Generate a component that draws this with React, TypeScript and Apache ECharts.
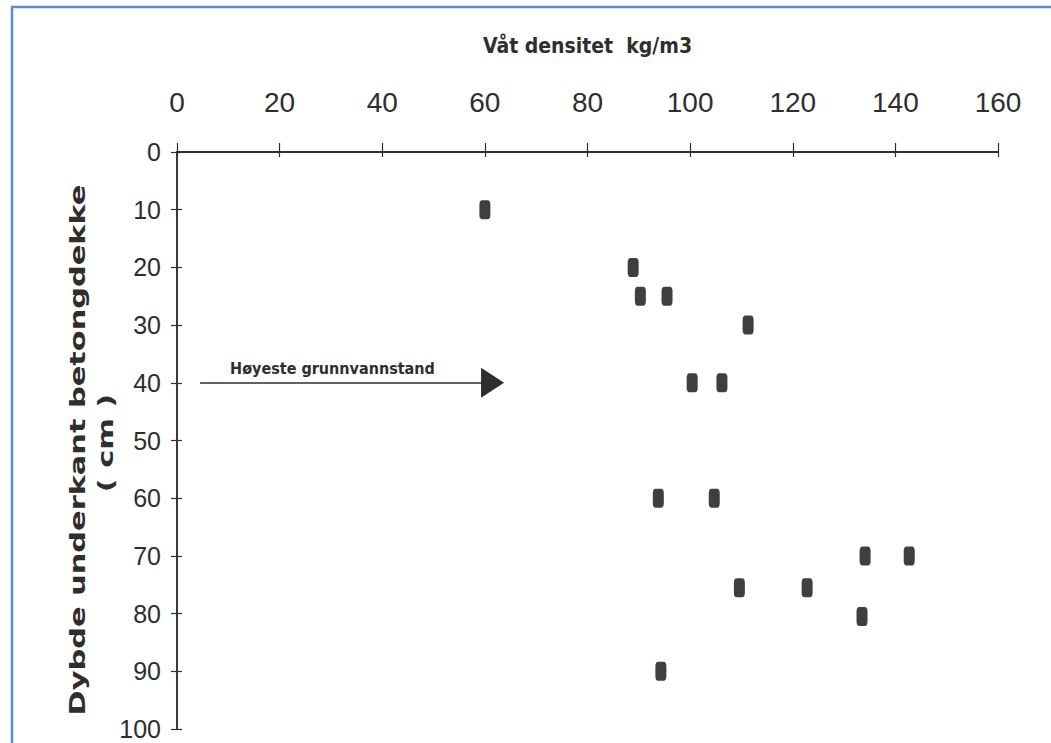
import React, { useEffect, useRef } from "react";
import * as echarts from "echarts";

// Wet density (kg/m3) vs depth below concrete deck (cm)
const densities = [60, 88.9, 90.3, 95.5, 111.3, 100.4, 106.2, 93.8, 104.7, 134.1, 142.7, 109.6, 122.8, 133.5, 94.3];
const depths = [10, 20, 25, 25, 30, 40, 40, 60, 60, 70, 70, 75.5, 75.5, 80.5, 90];

const xRange = [0, 160];
const xStep = 20;
const yRange = [0, 100];
const yStep = 10;

const xTitle = "Våt densitet  kg/m3";
const yTitle1 = "Dybde underkant betongdekke";
const yTitle2 = "( cm )";

const arrowStart = [4.5, 40];
const arrowEnd = [61.5, 40];
const arrowLabel = "Høyeste grunnvannstand";

const NUM = "'Liberation Sans', Arial, sans-serif";
const COND = "'DejaVu Sans Condensed', 'DejaVu Sans', sans-serif";
const INK = "#2e2e2e";

export default function App() {
  const ref = useRef<HTMLDivElement>(null);
  useEffect(() => {
    if (!ref.current) return;
    const chart = echarts.init(ref.current, null, { renderer: "svg" });
    const points = densities.map((d, i) => [d, depths[i]]);
    const baseY = {
      type: "value",
      inverse: true,
      min: yRange[0],
      max: yRange[1],
      interval: yStep,
      splitLine: { show: false },
      axisLine: { show: true, lineStyle: { color: INK, width: 1.5 } },
    };
    const baseX = {
      type: "value",
      position: "top",
      min: xRange[0],
      max: xRange[1],
      interval: xStep,
      splitLine: { show: false },
      axisLine: { show: true, lineStyle: { color: INK, width: 1.8 } },
    };
    chart.setOption({
      animation: false,
      backgroundColor: "#fff",
      grid: { left: 177, right: 53, top: 152, bottom: 14, containLabel: false },
      xAxis: [
        {
          ...baseX,
          name: xTitle,
          nameLocation: "middle",
          nameGap: 96,
          nameTextStyle: { fontFamily: COND, fontWeight: "bold", fontSize: 21, color: INK },
          axisTick: { show: true, inside: false, length: 9, lineStyle: { color: INK, width: 1.2 } },
          axisLabel: { fontFamily: NUM, fontSize: 28, color: INK, margin: 36 },
        },
        {
          ...baseX,
          axisTick: { show: true, inside: true, length: 5, lineStyle: { color: INK, width: 1.2 } },
          axisLabel: { show: false },
        },
      ],
      yAxis: [
        {
          ...baseY,
          axisTick: { show: true, inside: false, length: 6, lineStyle: { color: INK, width: 1.2 } },
          axisLabel: { fontFamily: NUM, fontSize: 25, color: INK, margin: 16 },
        },
        {
          ...baseY,
          position: "left",
          axisTick: { show: true, inside: true, length: 5, lineStyle: { color: INK, width: 1.2 } },
          axisLabel: { show: false },
        },
      ],
      series: [
        {
          type: "scatter",
          data: points,
          symbol: "roundRect",
          symbolSize: [11, 19],
          itemStyle: { color: "#3f3f3f", opacity: 1 },
          markLine: {
            silent: true,
            symbol: ["none", "triangle"],
            symbolSize: [30, 23],
            lineStyle: { color: INK, width: 1.6, type: "solid" },
            label: {
              show: true,
              position: "insideStartTop",
              distance: [30, 6],
              formatter: arrowLabel,
              fontFamily: COND,
              fontWeight: "bold",
              fontSize: 16,
              color: INK,
            },
            data: [[{ coord: arrowStart }, { coord: arrowEnd }]],
          },
        },
      ],
      graphic: [
        {
          type: "line",
          shape: { x1: 11, y1: 7, x2: 1051, y2: 7 },
          style: { stroke: "#5b8bd1", lineWidth: 2.5 },
        },
        {
          type: "line",
          shape: { x1: 12, y1: 7, x2: 12, y2: 743 },
          style: { stroke: "#5b8bd1", lineWidth: 2.5 },
        },
        {
          type: "text",
          x: 77,
          y: 450,
          rotation: Math.PI / 2,
          scaleX: 1.38,
          style: {
            text: yTitle1,
            fontFamily: "'DejaVu Sans', sans-serif",
            fontWeight: "bold",
            fontSize: 22,
            fill: INK,
            align: "center",
            verticalAlign: "middle",
          },
        },
        {
          type: "text",
          x: 105,
          y: 443,
          rotation: Math.PI / 2,
          scaleX: 1.38,
          style: {
            text: yTitle2,
            fontFamily: "'DejaVu Sans', sans-serif",
            fontWeight: "bold",
            fontSize: 22,
            fill: INK,
            align: "center",
            verticalAlign: "middle",
          },
        },
      ],
    });
    return () => chart.dispose();
  }, []);
  return (
    <div
      ref={ref}
      style={{ position: "absolute", left: 0, top: 0, width: 1051, height: 743 }}
    />
  );
}
